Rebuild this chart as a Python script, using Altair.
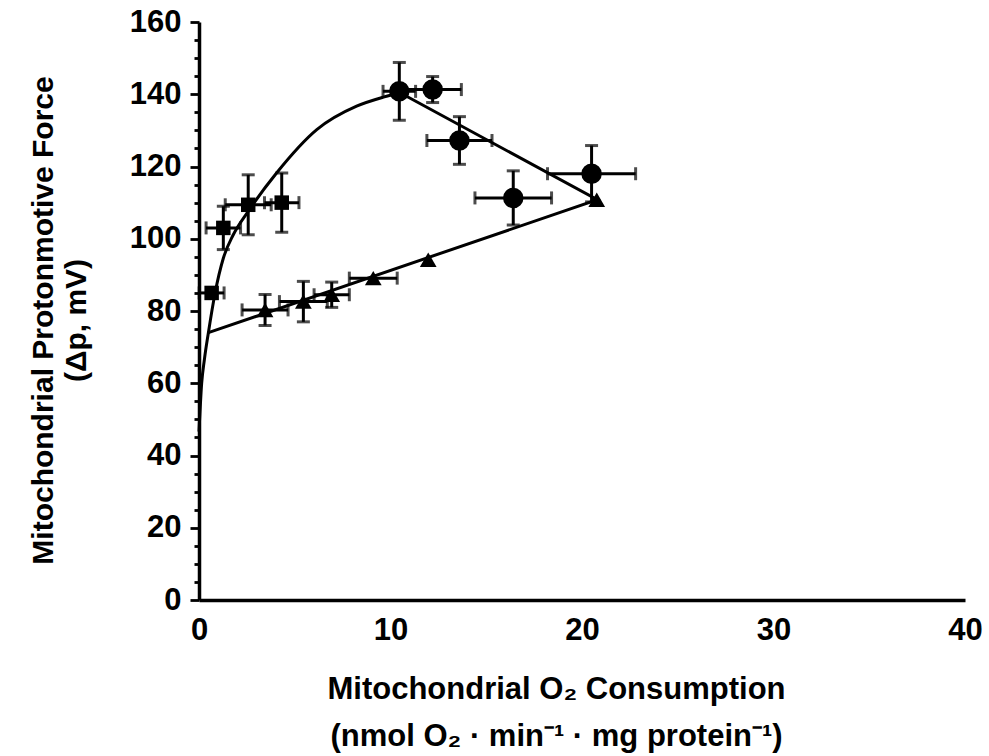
import altair as alt
import pandas as pd

# ---- data ----
sq_x = [0.66, 1.27, 2.57, 4.32]
sq_y = [85.0, 103.0, 109.4, 110.0]
sq_xerr = [0.65, 0.9, 1.2, 0.9]
sq_yerr = [0.0, 6.0, 8.3, 8.2]

ci_x = [10.46, 12.2, 13.6, 16.41, 20.5]
ci_y = [140.8, 141.3, 127.2, 111.3, 118.0]
ci_xerr = [0.85, 1.5, 1.7, 2.0, 2.3]
ci_yerr = [8.0, 3.6, 6.6, 7.5, 7.8]

tr_x = [3.45, 5.45, 6.93, 9.1, 11.97, 20.77]
tr_y = [80.3, 82.6, 84.5, 89.1, 94.2, 110.8]
tr_xerr = [1.2, 1.25, 0.92, 1.25, 0.0, 0.0]
tr_yerr = [4.3, 5.6, 3.5, 0.0, 0.0, 0.0]

curve_x = [0.0, 0.14, 0.28, 0.49, 0.84, 1.27, 1.79, 2.57, 4.05, 6.15, 8.23, 9.63, 10.5]
curve_y = [46.6, 60.0, 66.5, 74.0, 85.0, 94.6, 101.1, 107.6, 118.2, 130.2, 136.7, 139.2, 140.4]

line_x = [10.5, 20.8, 0.49]
line_y = [140.4, 110.8, 74.0]

x_ticks = [0, 10, 20, 30, 40]
y_ticks = list(range(0, 161, 5))

FONT = "Liberation Sans"
SW = 3.0

def pts(xs, ys, xe, ye, shape):
    return pd.DataFrame({"x": xs, "y": ys, "xe": xe, "ye": ye, "shape": shape})

pdf = pd.concat([
    pts(sq_x, sq_y, sq_xerr, sq_yerr, "square"),
    pts(ci_x, ci_y, ci_xerr, ci_yerr, "circle"),
    pts(tr_x, tr_y, tr_xerr, tr_yerr, "triangle"),
], ignore_index=True)
pdf["x1"] = pdf["x"] - pdf["xe"]
pdf["x2"] = pdf["x"] + pdf["xe"]
pdf["y1"] = pdf["y"] - pdf["ye"]
pdf["y2"] = pdf["y"] + pdf["ye"]
hx = pdf[pdf["xe"] > 0]
vy = pdf[pdf["ye"] > 0]

curve_df = pd.DataFrame({"x": curve_x, "y": curve_y})
line_df = pd.DataFrame({"x": line_x, "y": line_y, "o": list(range(len(line_x)))})

xscale = alt.Scale(domain=[0, 40], nice=False, zero=False)
yscale = alt.Scale(domain=[0, 160], nice=False, zero=False)

xaxis = alt.Axis(
    values=x_ticks, ticks=False, grid=False, domainColor="black", domainWidth=3.5,
    labelFont=FONT, labelFontSize=31, labelFontWeight="bold", labelColor="black",
    labelPadding=15, labelFlush=False,
    title=["Mitochondrial O\u2082 Consumption", "(nmol O\u2082 \u00b7 min\u207b\u00b9 \u00b7 mg protein\u207b\u00b9)"],
    titleFont=FONT, titleFontSize=31, titleFontWeight="bold", titleColor="black",
    titleX=357, titleY=74, titleAlign="center", titleBaseline="top", titleLineHeight=47,
)
yaxis = alt.Axis(
    values=y_ticks, grid=False, domainColor="black", domainWidth=3.5,
    tickColor="black", tickWidth=2.8,
    tickSize={"condition": {"test": "datum.value % 20 === 0", "value": 9}, "value": 5},
    labelExpr="datum.value % 20 === 0 ? datum.label : ''",
    labelFont=FONT, labelFontSize=31, labelFontWeight="bold", labelColor="black",
    labelPadding=9, labelFlush=False,
    title=["Mitochondrial Protonmotive Force", "(\u0394p, mV)"],
    titleFont=FONT, titleFontSize=30, titleFontWeight="bold", titleColor="black",
    titleAngle=270, titleX=-171, titleY=298, titleAlign="center", titleBaseline="top",
    titleLineHeight=33,
)

def X(f):
    return alt.X(f, type="quantitative", scale=xscale, axis=xaxis)

def Y(f):
    return alt.Y(f, type="quantitative", scale=yscale, axis=yaxis)

curve = alt.Chart(curve_df).mark_line(color="black", strokeWidth=SW, interpolate="monotone").encode(
    x=X("x"), y=Y("y"))
lines = alt.Chart(line_df).mark_line(color="black", strokeWidth=SW).encode(
    x=X("x"), y=Y("y"), order="o:O")

hbar = alt.Chart(hx).mark_rule(color="black", strokeWidth=SW).encode(
    x=X("x1"), x2="x2", y=Y("y"))
hcap1 = alt.Chart(hx).mark_tick(color="black", orient="vertical", size=13, thickness=SW).encode(
    x=X("x1"), y=Y("y"))
hcap2 = alt.Chart(hx).mark_tick(color="black", orient="vertical", size=13, thickness=SW).encode(
    x=X("x2"), y=Y("y"))
vbar = alt.Chart(vy).mark_rule(color="black", strokeWidth=SW).encode(
    x=X("x"), y=Y("y1"), y2="y2")
vcap1 = alt.Chart(vy).mark_tick(color="black", orient="horizontal", size=13, thickness=SW).encode(
    x=X("x"), y=Y("y1"))
vcap2 = alt.Chart(vy).mark_tick(color="black", orient="horizontal", size=13, thickness=SW).encode(
    x=X("x"), y=Y("y2"))

sq = alt.Chart(pdf[pdf["shape"] == "square"]).mark_point(
    shape="square", filled=True, color="black", size=210, opacity=1).encode(x=X("x"), y=Y("y"))
ci = alt.Chart(pdf[pdf["shape"] == "circle"]).mark_point(
    shape="circle", filled=True, color="black", size=420, opacity=1).encode(x=X("x"), y=Y("y"))
tr = alt.Chart(pdf[pdf["shape"] == "triangle"]).mark_point(
    shape="triangle-up", filled=True, color="black", size=280, opacity=1).encode(x=X("x"), y=Y("y"))

chart = alt.layer(curve, lines, hbar, hcap1, hcap2, vbar, vcap1, vcap2, sq, ci, tr).properties(
    width=766, height=578,
    autosize=alt.AutoSizeParams(type="none"),
    padding={"left": 199, "top": 22, "right": 24, "bottom": 156},
    background="white",
).configure_view(stroke=None)

chart.save("out.html", embed_options={"renderer": "svg", "actions": False})
